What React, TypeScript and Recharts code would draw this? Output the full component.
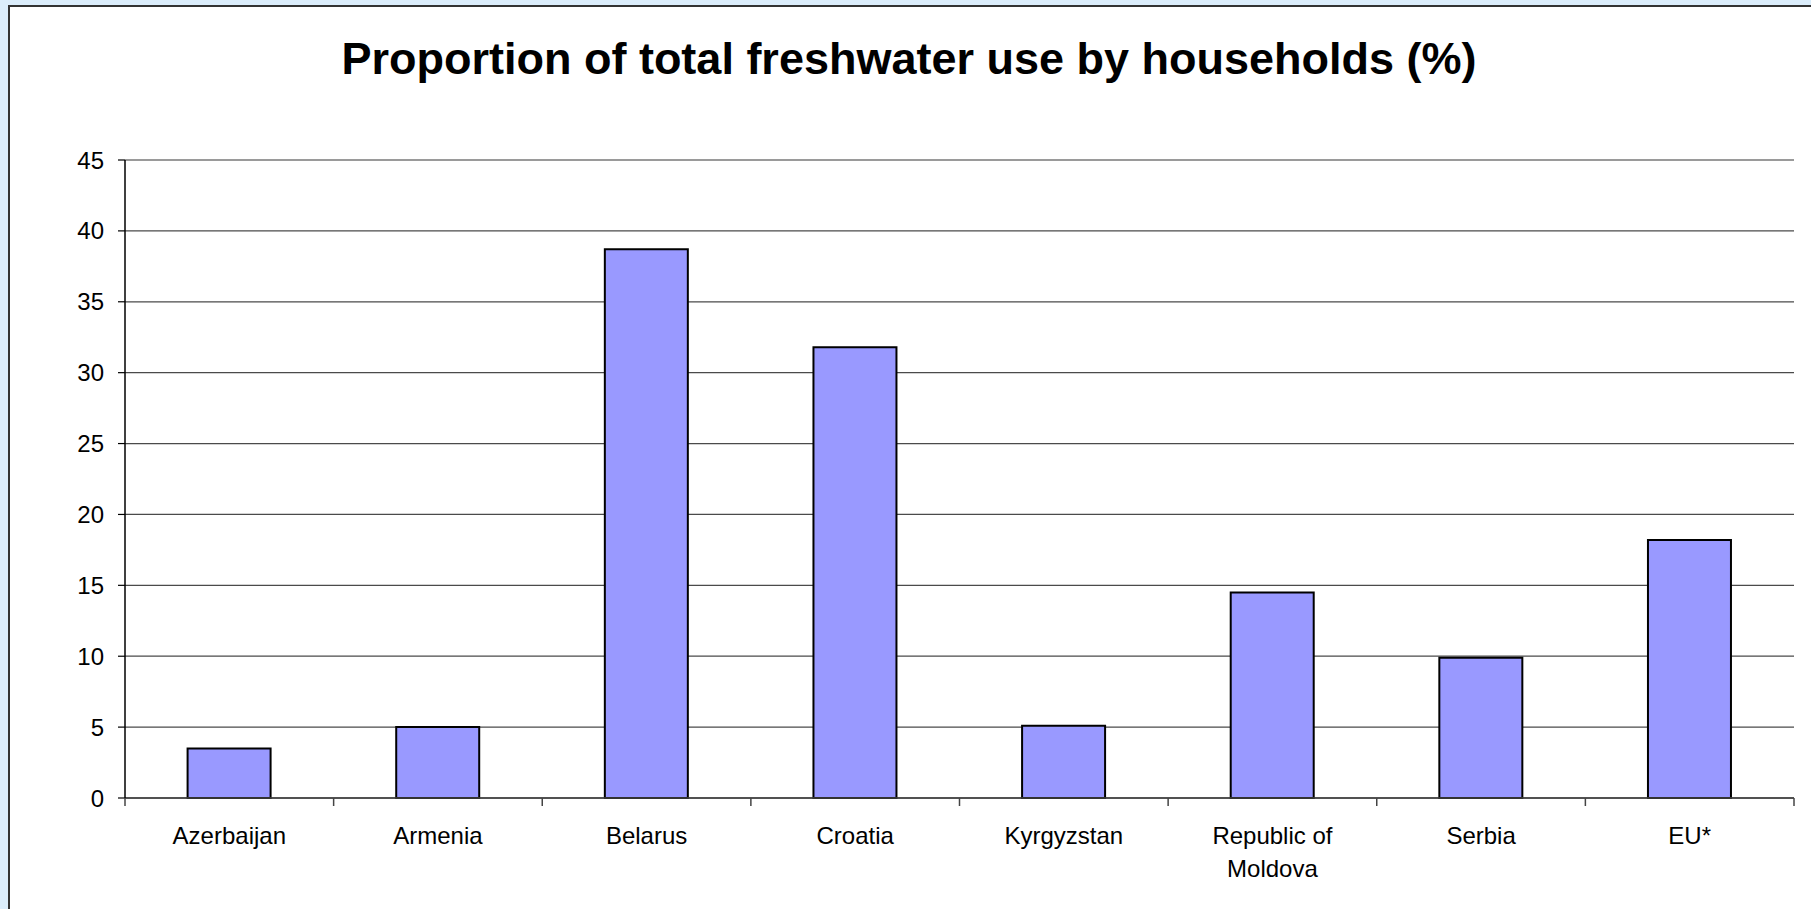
import { BarChart, Bar, XAxis, YAxis, CartesianGrid } from "recharts";

const FONT = "'Liberation Sans', Arial, sans-serif";

const countries = [
  "Azerbaijan",
  "Armenia",
  "Belarus",
  "Croatia",
  "Kyrgyzstan",
  "Republic of\nMoldova",
  "Serbia",
  "EU*",
];
const householdShare = [3.5, 5.0, 38.7, 31.8, 5.1, 14.5, 9.9, 18.2];
const yTicks = [0, 5, 10, 15, 20, 25, 30, 35, 40, 45];

const data = countries.map((name, i) => ({ name, value: householdShare[i] }));

const W = 1811;
const H = 909;
const PLOT_LEFT = 125;
const PLOT_RIGHT = 1794;
const PLOT_TOP = 160;
const PLOT_BOTTOM = 798;

function CountryTick(props: any) {
  const { x, y, payload } = props;
  const half =
    payload?.offset ?? (PLOT_RIGHT - PLOT_LEFT) / countries.length / 2;
  const lines = String(payload.value).split("\n");
  const last = payload.index === countries.length - 1;
  return (
    <g>
      <line x1={x - half} x2={x - half} y1={y} y2={y + 8} stroke="#444" strokeWidth={1.5} />
      {last && (
        <line x1={x + half} x2={x + half} y1={y} y2={y + 8} stroke="#444" strokeWidth={1.5} />
      )}
      {lines.map((line, i) => (
        <text
          key={i}
          x={x}
          y={y + 46 + i * 33}
          textAnchor="middle"
          fill="#000"
          fontSize={24}
          fontFamily={FONT}
        >
          {line}
        </text>
      ))}
    </g>
  );
}

function GridLine(props: any) {
  const isTop = Math.abs(props.y1 - props.y) < 1;
  return (
    <line
      x1={props.x1}
      x2={props.x2}
      y1={props.y1}
      y2={props.y2}
      stroke={isTop ? "#9a9a9a" : "#4a4a4a"}
      strokeWidth={isTop ? 2 : 1.3}
    />
  );
}

export default function App() {
  return (
    <div
      style={{
        position: "fixed",
        left: 0,
        top: 0,
        width: W,
        height: H,
        overflow: "hidden",
        background: "#dbedfb",
      }}
    >
      <div
        style={{
          position: "absolute",
          left: 8,
          top: 5,
          width: W,
          height: H,
          background: "#fff",
          border: "2px solid #333",
        }}
      />
      <div
        style={{
          position: "absolute",
          left: 0,
          top: 36,
          width: 1818,
          textAlign: "center",
          fontFamily: FONT,
          fontWeight: "bold",
          fontSize: 45,
          lineHeight: "45px",
          color: "#000",
          whiteSpace: "nowrap",
        }}
      >
        Proportion of total freshwater use by households (%)
      </div>
      <div style={{ position: "absolute", left: 0, top: 0 }}>
        <BarChart
          width={W}
          height={H}
          data={data}
          barCategoryGap="30%"
          margin={{
            top: PLOT_TOP,
            right: W - PLOT_RIGHT,
            left: PLOT_LEFT - 60,
            bottom: H - PLOT_BOTTOM - 80,
          }}
        >
          <CartesianGrid vertical={false} horizontal={GridLine} />
          <XAxis
            dataKey="name"
            height={80}
            interval={0}
            tickSize={0}
            tickMargin={0}
            tickLine={false}
            axisLine={{ stroke: "#444", strokeWidth: 1.5 }}
            tick={CountryTick}
          />
          <YAxis
            width={60}
            domain={[0, 45]}
            ticks={yTicks}
            interval={0}
            tickSize={7}
            tickMargin={14}
            axisLine={{ stroke: "#000", strokeWidth: 1.5 }}
            tickLine={{ stroke: "#000", strokeWidth: 1.2 }}
            tick={{ fill: "#000", fontSize: 24, fontFamily: FONT }}
          />
          <YAxis
            yAxisId="frame"
            orientation="right"
            width={0}
            domain={[0, 45]}
            tick={false}
            tickLine={false}
            axisLine={{ stroke: "#9a9a9a", strokeWidth: 2 }}
          />
          <Bar
            dataKey="value"
            fill="#9999ff"
            stroke="#000"
            strokeWidth={2}
            isAnimationActive={false}
          />
        </BarChart>
      </div>
    </div>
  );
}
